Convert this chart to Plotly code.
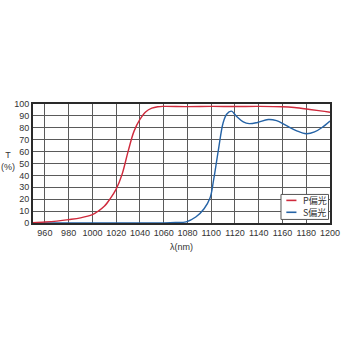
import plotly.graph_objects as go

# Wavelength (nm) and transmittance (%)
wl_p = [950, 960, 970, 980, 990, 1000, 1005, 1010, 1015, 1020, 1025, 1030, 1035, 1040, 1045, 1050, 1055, 1060,
        1080, 1100, 1120, 1140, 1160, 1170, 1183, 1192, 1200]
t_p = [0.3, 0.8, 1.6, 2.8, 4.3, 7, 10, 14, 20.5, 28.5, 41, 60, 77, 87, 93.5, 96.5, 97.7, 98,
       97.8, 98, 97.9, 98, 97.7, 97, 95.4, 94.2, 93]

wl_s = [950, 1040, 1060, 1070, 1079, 1087, 1094, 1099, 1102, 1106, 1110, 1113, 1117, 1121, 1127,
        1132, 1139, 1148, 1155, 1163, 1172, 1180, 1187, 1193, 1200]
t_s = [0, 0, 0.1, 0.4, 1, 5, 12, 21, 36, 61, 84, 91.4, 94, 90, 85,
       83.5, 84.5, 87, 86, 82, 77.5, 75, 76.5, 80, 85.7]

x_ticks = list(range(960, 1201, 20))
y_ticks = list(range(0, 101, 10))

red = "#cf2a3c"
blue = "#2563a6"
font_fam = "Liberation Sans, Arial, sans-serif"

fig = go.Figure()
fig.add_trace(go.Scatter(x=wl_s, y=t_s, mode="lines", name="S偏光",
                         line=dict(color=blue, width=1.4, shape="spline", smoothing=1.0)))
fig.add_trace(go.Scatter(x=wl_p, y=t_p, mode="lines", name="P偏光",
                         line=dict(color=red, width=1.4, shape="spline", smoothing=1.0)))

fig.update_layout(
    width=350, height=350,
    margin=dict(l=33, r=10, t=104, b=127),
    paper_bgcolor="white", plot_bgcolor="white",
    showlegend=False,
    font=dict(family=font_fam, size=9, color="#333"),
)
fig.update_xaxes(range=[950, 1200], tickvals=x_ticks, ticks="", showgrid=True,
                 gridcolor="#5a5a5a", gridwidth=1, showline=True, linecolor="#2a2a2a",
                 linewidth=1.8, mirror=True, zeroline=False, tickfont=dict(size=9, color="#333"))
fig.update_yaxes(range=[0, 100], tickvals=y_ticks, ticks="", showgrid=True,
                 gridcolor="#5a5a5a", gridwidth=1, showline=True, linecolor="#2a2a2a",
                 linewidth=1.8, mirror=True, zeroline=False, tickfont=dict(size=9, color="#333"))

# axis titles
fig.add_annotation(text="λ(nm)", xref="paper", yref="paper", x=0.5, y=-0.14,
                   yanchor="top", showarrow=False, font=dict(size=9, color="#333"))
fig.add_annotation(text="T<br>(%)", xref="paper", yref="paper", x=-0.085, y=0.52,
                   xanchor="center", showarrow=False, font=dict(size=9, color="#333"))

# legend box drawn in paper coords
fig.add_shape(type="rect", xref="paper", yref="paper", x0=0.835, x1=0.995, y0=0.03, y1=0.24,
              line=dict(color="#555", width=1), fillcolor="white", opacity=1, layer="above")
for name, col, yy in [("P偏光", red, 0.19), ("S偏光", blue, 0.09)]:
    fig.add_shape(type="line", xref="paper", yref="paper", x0=0.853, x1=0.887, y0=yy, y1=yy,
                  line=dict(color=col, width=1.6), layer="above")
    fig.add_annotation(text=name, xref="paper", yref="paper", x=0.902, y=yy, xanchor="left",
                       yanchor="middle", showarrow=False,
                       font=dict(size=9, color="#333", family="Noto Sans CJK JP, " + font_fam))

fig.write_html("out.html")
